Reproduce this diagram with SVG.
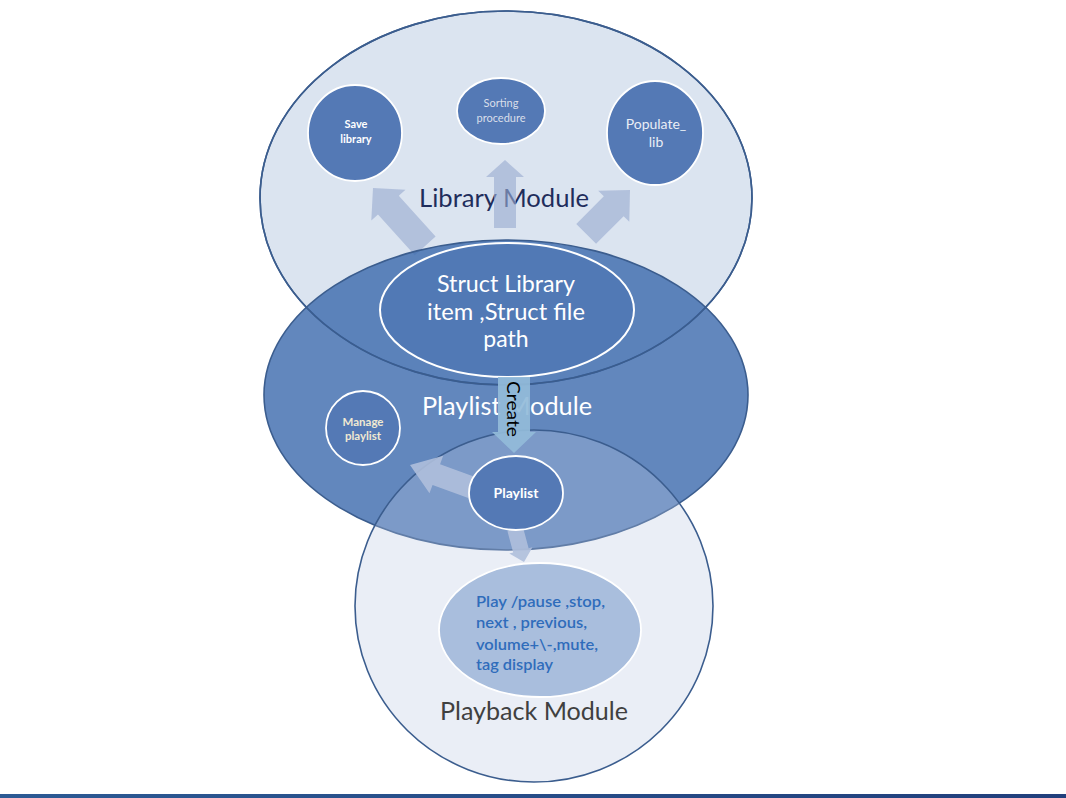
<svg xmlns="http://www.w3.org/2000/svg" width="1066" height="798" viewBox="0 0 1066 798">
<defs>
<style>
.t{font-family:Lato,"Open Sans","Liberation Sans",sans-serif}
.out{stroke:#3b5d8e;stroke-width:1.6}
.node{fill:#5479b5;stroke:#fff;stroke-width:1.8}
.arr{fill:#9aabd0;opacity:0.62}
.arr2{fill:#afbfdb;opacity:0.9}
</style>
<linearGradient id="bar" x1="0" x2="1" y1="0" y2="0">
<stop offset="0" stop-color="#2c5a94"/><stop offset="1" stop-color="#213f7c"/>
</linearGradient>
</defs>
<rect width="1066" height="798" fill="#fff"/>

<g id="library-module">
<ellipse cx="506" cy="198" rx="246" ry="187" fill="#dbe4f0" class="out"/>
<text class="t" x="504" y="207" font-size="25" fill="#1f2d5c" text-anchor="middle" textLength="170" lengthAdjust="spacingAndGlyphs">Library Module</text>
</g>

<g id="connectors-top">
<path class="arr" transform="translate(373,188) rotate(-42)" d="M0,0 L23,23 L14,23 L14,78 L-14,78 L-14,23 L-23,23 Z"/>
<path class="arr" transform="translate(505,160)" d="M0,0 L19,17 L11,17 L11,68 L-11,68 L-11,17 L-19,17 Z"/>
<path class="arr" transform="translate(630,190) rotate(45)" d="M0,0 L22,23 L14,23 L14,62 L-14,62 L-14,23 L-22,23 Z"/>
</g>

<g id="save-library">
<ellipse class="node" cx="355" cy="133" rx="47" ry="48"/>
<text class="t" x="356" y="128" font-size="11" font-weight="bold" fill="#fff" text-anchor="middle">Save</text>
<text class="t" x="356" y="143" font-size="11" font-weight="bold" fill="#fff" text-anchor="middle">library</text>
</g>
<g id="sorting-procedure">
<ellipse class="node" cx="501" cy="111" rx="44" ry="33"/>
<text class="t" x="501" y="107" font-size="11" fill="#d9dfea" text-anchor="middle">Sorting</text>
<text class="t" x="501" y="122" font-size="11" fill="#d9dfea" text-anchor="middle">procedure</text>
</g>
<g id="populate-lib">
<ellipse class="node" cx="655" cy="133" rx="48" ry="52"/>
<text class="t" x="656" y="129" font-size="14" fill="#eaeef5" text-anchor="middle">Populate_</text>
<text class="t" x="656" y="147" font-size="14" fill="#eaeef5" text-anchor="middle">lib</text>
</g>

<g id="playlist-module">
<ellipse cx="506" cy="395" rx="242" ry="155" fill="#3b69ac" fill-opacity="0.8" class="out"/>
<ellipse cx="506" cy="198" rx="246" ry="187" fill="none" class="out"/>
<text class="t" x="507" y="415" font-size="25" fill="#fff" text-anchor="middle" textLength="170" lengthAdjust="spacingAndGlyphs">Playlist Module</text>
</g>

<g id="struct">
<ellipse cx="507" cy="310" rx="127" ry="67" fill="#5179b5" stroke="#fff" stroke-width="2"/>
<text class="t" x="506" y="292" font-size="23" fill="#fff" text-anchor="middle" textLength="138" lengthAdjust="spacingAndGlyphs">Struct Library</text>
<text class="t" x="506" y="320" font-size="23" fill="#fff" text-anchor="middle" textLength="158" lengthAdjust="spacingAndGlyphs">item ,Struct file</text>
<text class="t" x="506" y="347" font-size="23" fill="#fff" text-anchor="middle">path</text>
</g>

<g id="manage-playlist">
<circle class="node" cx="363" cy="428" r="37"/>
<text class="t" x="363" y="426" font-size="11.5" font-weight="bold" fill="#f0e9d2" text-anchor="middle">Manage</text>
<text class="t" x="363" y="440" font-size="11.5" font-weight="bold" fill="#f0e9d2" text-anchor="middle">playlist</text>
</g>

<g id="playback-module">
<ellipse cx="534" cy="606" rx="179" ry="176" fill="#bac7e1" fill-opacity="0.3" class="out"/>
</g>

<g id="connectors">
<g id="create">
<path transform="translate(514,453) rotate(180)" d="M0,0 L22,21 L16,21 L16,76 L-16,76 L-16,21 L-22,21 Z" fill="#93bbd9" opacity="0.92"/>
<text class="t" transform="translate(507,409) rotate(90)" font-size="17" fill="#000" text-anchor="middle" textLength="56" lengthAdjust="spacingAndGlyphs">Create</text>
</g>
<path class="arr2" transform="translate(410,465) rotate(-70)" d="M0,0 L20,28 L11,28 L11,66 L-11,66 L-11,28 L-20,28 Z"/>
<path class="arr2" transform="translate(524,562) rotate(165)" d="M0,0 L12,12 L8,12 L8,34 L-8,34 L-8,12 L-12,12 Z"/>
</g>

<g id="playlist">
<ellipse class="node" cx="516" cy="493" rx="47" ry="37"/>
<text class="t" x="516" y="498" font-size="14" font-weight="bold" fill="#fff" text-anchor="middle">Playlist</text>
</g>

<g id="playback-controls">
<ellipse cx="540" cy="630" rx="101" ry="67" fill="#a9bedd" stroke="#fff" stroke-width="1.8"/>
<g class="t" font-size="15" font-weight="600" fill="#2f6cbb">
<text x="476" y="607" textLength="129" lengthAdjust="spacingAndGlyphs">Play /pause ,stop,</text>
<text x="476" y="628" textLength="111" lengthAdjust="spacingAndGlyphs">next , previous,</text>
<text x="476" y="650" textLength="122" lengthAdjust="spacingAndGlyphs">volume+\-,mute,</text>
<text x="476" y="670" textLength="77" lengthAdjust="spacingAndGlyphs">tag display</text>
</g>
</g>
<text class="t" x="534" y="720" font-size="25" fill="#404040" text-anchor="middle" textLength="188" lengthAdjust="spacingAndGlyphs">Playback Module</text>

<rect x="0" y="794" width="1066" height="4" fill="url(#bar)"/>
</svg>
